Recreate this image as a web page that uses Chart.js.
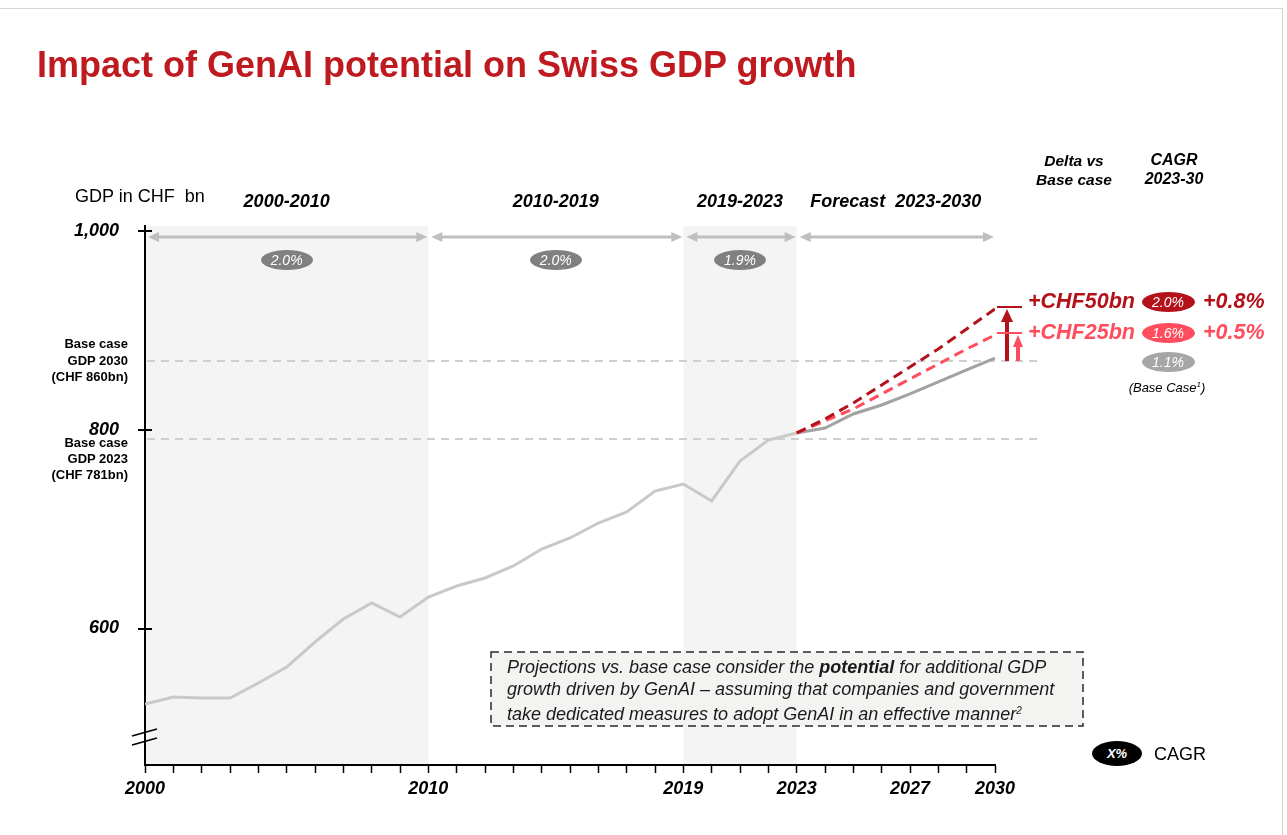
<!DOCTYPE html>
<html>
<head>
<meta charset="utf-8">
<script src="https://cdn.jsdelivr.net/npm/chart.js@4.4.1/dist/chart.umd.min.js"></script>
<style>
  html, body { margin: 0; padding: 0; background: #fff; }
  body { width: 1287px; height: 835px; position: relative; overflow: hidden;
         font-family: "Liberation Sans", Arial, sans-serif; color: #000; }
  #frame { position: absolute; left: -2px; top: 8px; width: 1284px; height: 900px;
           border-top: 1px solid #d6d6d6; border-right: 1px solid #d6d6d6; }
  #chart { position: absolute; left: 0; top: 0; }
  .t { position: absolute; white-space: nowrap; line-height: 1; }
  .bi { font-weight: bold; font-style: italic; }
  .badge { position: absolute; border-radius: 50%; color: #fff; font-style: italic;
           text-align: center; font-size: 14px; }
  .note { position: absolute; left: 507px; top: 657px; font-size: 18px; font-style: italic;
          line-height: 21.5px; color: #1a1a1a; white-space: nowrap; }
</style>
</head>
<body>
<div id="frame"></div>
<canvas id="chart" width="1287" height="835"></canvas>
<div id="layer"></div>
<script>
// ---- data ----
const YEARS = [2000, 2001, 2002, 2003, 2004, 2005, 2006, 2007, 2008, 2009, 2010,
               2011, 2012, 2013, 2014, 2015, 2016, 2017, 2018, 2019, 2020,
               2021, 2022, 2023, 2024, 2025, 2026, 2027, 2028, 2029, 2030];
const YEARS_HIST = YEARS.slice(0, 24);   // 2000-2023
const YEARS_FC   = YEARS.slice(23);      // 2023-2030

const GDP_HIST = [523.9, 531.0, 530.0, 530.0, 545.1, 561.2, 586.4, 609.6, 625.7, 611.6,
                  631.7, 642.8, 650.9, 663.0, 680.1, 691.2, 706.3, 717.4, 738.5, 745.6,
                  728.5, 768.8, 789.9, 797.0];
const GDP_BASE = [797.0, 802.0, 816.1, 825.2, 836.3, 848.4, 860.5, 872.5];
const GDP_MID  = [797.0, 809.1, 821.2, 836.3, 851.4, 866.5, 881.6, 895.7];  // +CHF25bn
const GDP_HIGH = [797.0, 811.1, 827.2, 845.3, 863.5, 881.6, 901.8, 921.9];  // +CHF50bn

const X_LABELS = [2000, 2010, 2019, 2023, 2027, 2030];
const Y_TICKS  = [600, 800, 1000];
const REF_LINES = [869.5, 791.0];        // dashed "base case" guides (2030, 2023)

const PERIODS      = [[2000, 2010], [2010, 2019], [2019, 2023], [2023, 2030]];
const PERIOD_NAMES = ['2000-2010', '2010-2019', '2019-2023', 'Forecast&nbsp; 2023-2030'];
const PERIOD_CAGR  = ['2.0%', '2.0%', '1.9%', null];
const SHADED       = [[2000, 2010], [2019, 2023]];

const SCEN_DELTA = ['+CHF50bn', '+CHF25bn'];
const SCEN_CAGR  = ['2.0%', '1.6%', '1.1%'];
const SCEN_DIFF  = ['+0.8%', '+0.5%'];

const DARK_RED = '#b3121b';
const PINK     = '#ff4d5d';
const GREY_HIST = '#c9c9c9';
const GREY_BASE = '#a2a2a2';

const pts = (xs, ys) => xs.map((x, i) => ({ x, y: ys[i] }));

function tri(ctx, x, y, dir) {
  ctx.beginPath();
  ctx.moveTo(x, y);
  ctx.lineTo(x + dir * 11, y - 5);
  ctx.lineTo(x + dir * 11, y + 5);
  ctx.closePath();
  ctx.fill();
}

const decor = {
  id: 'decor',
  beforeDraw(chart) {
    const { ctx, chartArea: a, scales: { x } } = chart;
    ctx.save();
    ctx.fillStyle = '#f4f4f4';
    SHADED.forEach(([s, e]) => {
      const x1 = x.getPixelForValue(s), x2 = x.getPixelForValue(e);
      ctx.fillRect(x1, a.top, x2 - x1, a.bottom - a.top);
    });
    ctx.restore();
  },
  beforeDatasetsDraw(chart) {
    const { ctx, chartArea: a, scales: { x, y } } = chart;
    ctx.save();
    // base case guides
    ctx.strokeStyle = '#cfcfcf';
    ctx.lineWidth = 2;
    ctx.setLineDash([8, 6]);
    REF_LINES.forEach(v => {
      const py = Math.round(y.getPixelForValue(v));
      ctx.beginPath(); ctx.moveTo(a.left + 2, py); ctx.lineTo(1043, py); ctx.stroke();
    });
    ctx.setLineDash([]);
    // period arrows
    const ay = a.top + 11;
    ctx.strokeStyle = ctx.fillStyle = '#bfbfbf';
    ctx.lineWidth = 3;
    PERIODS.forEach(([s, e]) => {
      const x1 = x.getPixelForValue(s) + 3, x2 = x.getPixelForValue(e) - 1;
      ctx.beginPath(); ctx.moveTo(x1 + 8, ay); ctx.lineTo(x2 - 8, ay); ctx.stroke();
      tri(ctx, x1, ay, 1); tri(ctx, x2, ay, -1);
    });
    // note box
    ctx.fillStyle = '#f3f3f1';
    ctx.fillRect(491, 652, 592, 74);
    ctx.strokeStyle = '#2a2a2a';
    ctx.lineWidth = 1.5;
    ctx.setLineDash([8, 5]);
    ctx.strokeRect(491, 652, 592, 74);
    ctx.restore();
  },
  afterDraw(chart) {
    const { ctx, chartArea: a, scales: { x, y } } = chart;
    ctx.save();
    ctx.strokeStyle = '#000';
    ctx.lineWidth = 2;
    Y_TICKS.forEach(v => {
      const py = Math.round(y.getPixelForValue(v));
      ctx.beginPath(); ctx.moveTo(a.left - 7, py); ctx.lineTo(a.left + 7, py); ctx.stroke();
    });
    // axis break
    ctx.lineWidth = 1.8;
    [736, 745].forEach(b => {
      ctx.beginPath(); ctx.moveTo(a.left - 13, b); ctx.lineTo(a.left + 12, b - 7); ctx.stroke();
    });
    // delta arrows at 2030
    const x30 = x.getPixelForValue(2030);
    const base = Math.round(y.getPixelForValue(REF_LINES[0]));
    [[GDP_HIGH, DARK_RED, 12, 6, 13], [GDP_MID, PINK, 23, 5, 12]].forEach(([ser, col, dx, hw, hl]) => {
      const top = Math.round(y.getPixelForValue(ser[ser.length - 1]));
      const ax = x30 + dx;
      ctx.strokeStyle = ctx.fillStyle = col;
      ctx.lineWidth = 2;
      ctx.beginPath(); ctx.moveTo(x30 + 2, top - 2); ctx.lineTo(x30 + 27, top - 2); ctx.stroke();
      ctx.lineWidth = 4;
      ctx.beginPath(); ctx.moveTo(ax, base); ctx.lineTo(ax, top + hl - 1); ctx.stroke();
      ctx.beginPath();
      ctx.moveTo(ax, top); ctx.lineTo(ax - hw, top + hl); ctx.lineTo(ax + hw, top + hl);
      ctx.closePath(); ctx.fill();
    });
    ctx.restore();
  }
};

const chart = new Chart(document.getElementById('chart'), {
  type: 'line',
  data: {
    datasets: [
      { label: '+CHF50bn', data: pts(YEARS_FC, GDP_HIGH), borderColor: DARK_RED,
        borderWidth: 3, borderDash: [10, 6], pointRadius: 0, order: 1 },
      { label: '+CHF25bn', data: pts(YEARS_FC, GDP_MID), borderColor: PINK,
        borderWidth: 3, borderDash: [10, 6], pointRadius: 0, order: 2 },
      { label: 'Base case', data: pts(YEARS_FC, GDP_BASE), borderColor: GREY_BASE,
        borderWidth: 3, pointRadius: 0, order: 3 },
      { label: 'GDP', data: pts(YEARS_HIST, GDP_HIST), borderColor: GREY_HIST,
        borderWidth: 3, pointRadius: 0, order: 4 },
    ],
  },
  options: {
    responsive: false,
    animation: false,
    devicePixelRatio: 1,
    layout: { padding: { top: 226, right: 292, left: 0, bottom: 0 } },
    plugins: { legend: { display: false }, tooltip: { enabled: false } },
    scales: {
      x: {
        type: 'linear', min: 2000, max: 2030,
        afterFit: s => { s.height = 70; },
        afterBuildTicks: s => { s.ticks = YEARS.map(v => ({ value: v })); },
        ticks: {
          autoSkip: false, maxRotation: 0, padding: 5, color: '#000',
          font: { family: 'Liberation Sans', size: 18, style: 'italic', weight: 'bold' },
          callback: v => X_LABELS.includes(v) ? String(v) : '',
        },
        grid: { drawOnChartArea: false, tickLength: 8, tickColor: '#000', tickWidth: 1.5 },
        border: { color: '#000', width: 2 },
      },
      y: {
        min: 462.5, max: 1005.5,
        afterFit: s => { s.width = 145; },
        afterBuildTicks: s => { s.ticks = Y_TICKS.map(v => ({ value: v })); },
        ticks: {
          padding: 26, color: '#000',
          font: { family: 'Liberation Sans', size: 18, style: 'italic', weight: 'bold' },
          callback: v => v.toLocaleString('en-US'),
        },
        grid: { display: false, drawTicks: false },
        border: { color: '#000', width: 2 },
      },
    },
  },
  plugins: [decor],
});

// ---- html text layer ----
const layer = document.getElementById('layer');
function text(html, x, base, size, cls, align, color) {
  const d = document.createElement('div');
  d.className = 't ' + (cls || '');
  d.innerHTML = html;
  d.style.left = x + 'px';
  d.style.top = (base - 0.8465 * size) + 'px';
  d.style.fontSize = size + 'px';
  if (color) d.style.color = color;
  if (align === 'c') d.style.transform = 'translateX(-50%)';
  if (align === 'r') d.style.transform = 'translateX(-100%)';
  layer.appendChild(d);
  return d;
}
function badge(label, cx, cy, w, h, bg, extra) {
  const d = document.createElement('div');
  d.className = 'badge';
  d.textContent = label;
  Object.assign(d.style, { left: (cx - w / 2) + 'px', top: (cy - h / 2) + 'px',
    width: w + 'px', height: h + 'px', lineHeight: h + 'px', background: bg }, extra || {});
  layer.appendChild(d);
}

text('Impact of GenAI potential on Swiss GDP growth', 37, 77, 36, '', '', '#bf1a1f')
  .style.fontWeight = 'bold';
text('GDP in CHF&nbsp; bn', 75, 202, 18);

const xs = chart.scales.x;
PERIODS.forEach(([s, e], i) => {
  const mid = (xs.getPixelForValue(s) + xs.getPixelForValue(e)) / 2;
  text(PERIOD_NAMES[i], mid, 207, 18, 'bi', 'c');
  if (PERIOD_CAGR[i]) badge(PERIOD_CAGR[i], mid, 260, 52, 20, '#808080');
});

text('Delta vs', 1074, 166, 15.5, 'bi', 'c');
text('Base case', 1074, 185, 15.5, 'bi', 'c');
text('CAGR', 1174, 166, 16, 'bi', 'c');
text('2023-30', 1174, 185, 16, 'bi', 'c');

['Base case', 'GDP 2030', '(CHF 860bn)'].forEach((s, i) =>
  text(s, 128, 348 + i * 16.7, 13, '', 'r').style.fontWeight = 'bold');
['Base case', 'GDP 2023', '(CHF 781bn)'].forEach((s, i) =>
  text(s, 128, 447 + i * 16.2, 13, '', 'r').style.fontWeight = 'bold');

text(SCEN_DELTA[0], 1028, 309, 21.5, 'bi', '', DARK_RED);
text(SCEN_DELTA[1], 1028, 340, 21.5, 'bi', '', PINK);
badge(SCEN_CAGR[0], 1168, 302, 53, 20, DARK_RED);
badge(SCEN_CAGR[1], 1168, 333, 53, 20, PINK);
badge(SCEN_CAGR[2], 1168, 362, 53, 20, '#a6a6a6');
text(SCEN_DIFF[0], 1203, 309, 21.5, 'bi', '', DARK_RED);
text(SCEN_DIFF[1], 1203, 340, 21.5, 'bi', '', PINK);
text('(Base Case<sup style="font-size:8px;vertical-align:5px">1</sup>)', 1167, 392, 13, '', 'c')
  .style.fontStyle = 'italic';

const note = document.createElement('div');
note.className = 'note';
note.innerHTML = 'Projections vs. base case consider the <b>potential</b> for additional GDP<br>' +
  'growth driven by GenAI – assuming that companies and government<br>' +
  'take dedicated measures to adopt GenAI in an effective manner<sup style="font-size:10px;vertical-align:6px">2</sup>';
layer.appendChild(note);

badge('X%', 1117, 753, 50, 25, '#000', { fontWeight: 'bold', fontSize: '13px' });
text('CAGR', 1154, 760, 18);
</script>
</body>
</html>
